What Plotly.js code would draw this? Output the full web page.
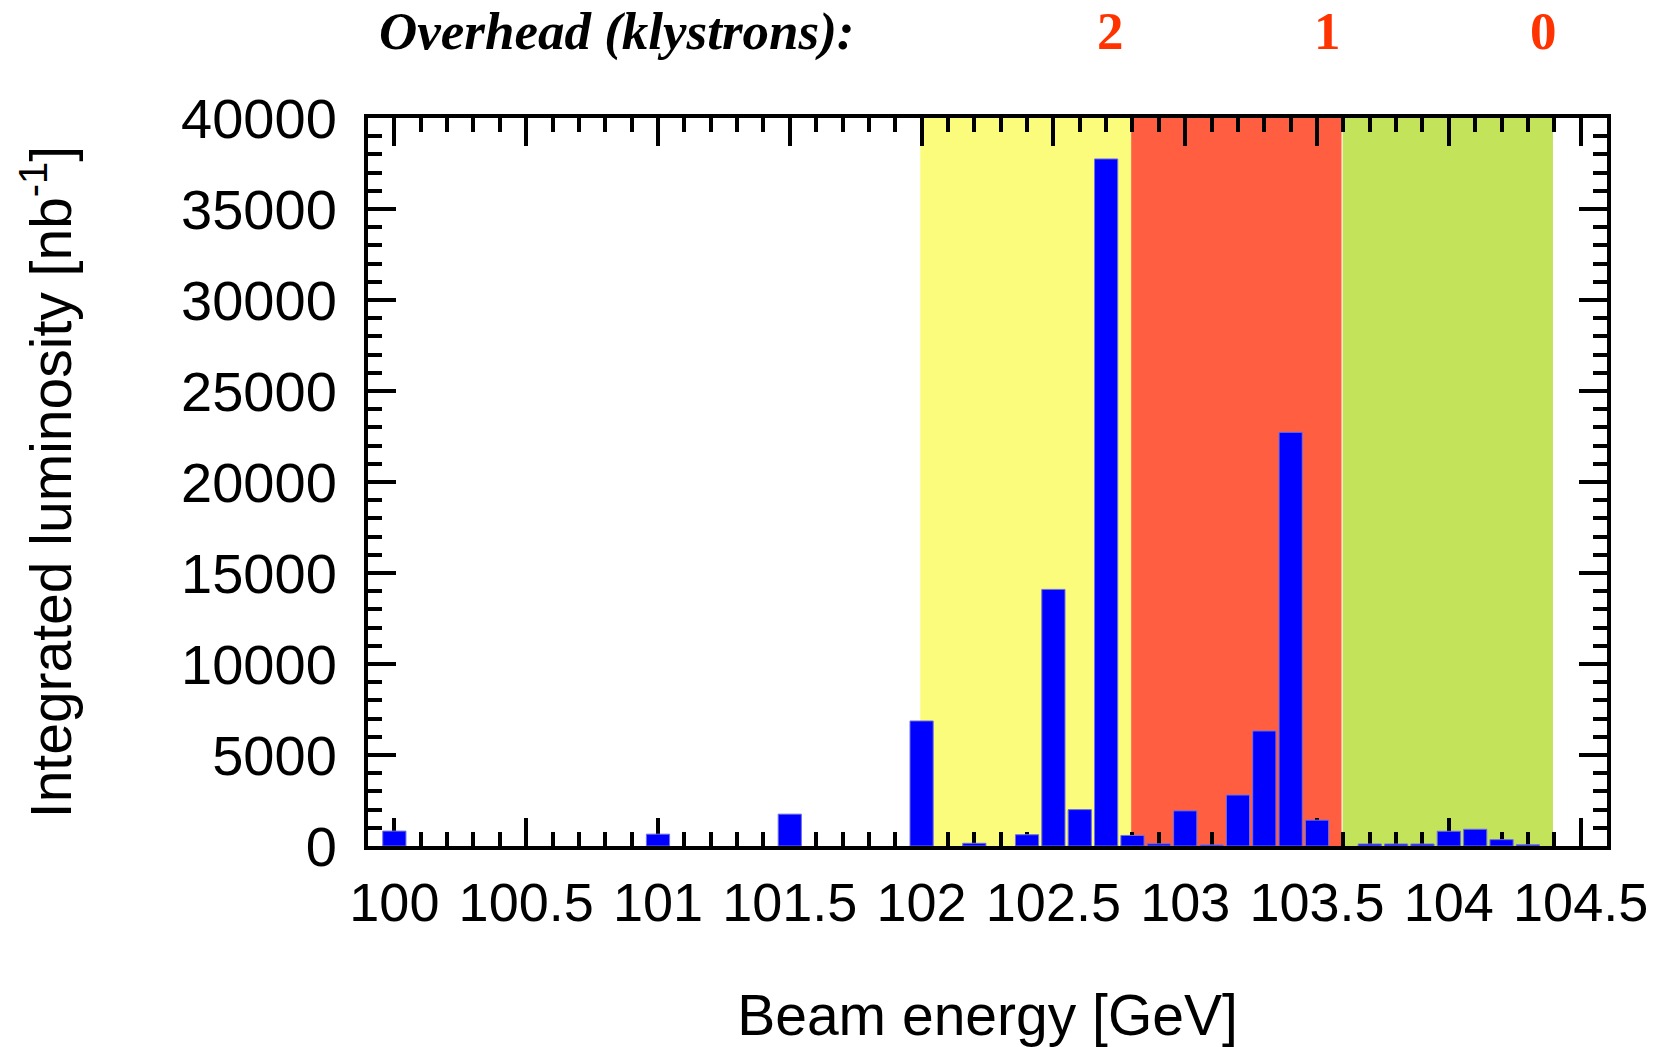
<!DOCTYPE html>
<html>
<head>
<meta charset="utf-8">
<script src="https://cdn.plot.ly/plotly-3.0.1.min.js"></script>
<style>
  html, body { margin: 0; padding: 0; background: #ffffff; }
  #chart { width: 1664px; height: 1047px; }
</style>
</head>
<body>
<div id="chart"></div>
<script>
// Beam energy bins [GeV] and integrated luminosity per bin [nb^-1]
const beamEnergy = [
  100.0, 101.0, 101.5, 102.0, 102.2, 102.4, 102.5, 102.6, 102.7, 102.8,
  102.9, 103.0, 103.1, 103.2, 103.3, 103.4, 103.5, 103.7, 103.8, 103.9,
  104.0, 104.1, 104.2, 104.3
];
const luminosity = [
  820, 650, 1750, 6870, 150, 620, 14100, 2000, 37750, 580,
  120, 1930, 60, 2800, 6320, 22730, 1420, 110, 110, 110,
  810, 920, 350, 70
];

// Klystron-overhead regions along the beam-energy axis
const overheadLabels = ['2', '1', '0'];
const overheadStart  = [101.995, 102.795, 103.597];
const overheadEnd    = [102.795, 103.593, 104.395];
const overheadColors = ['#FCFC7C', '#FF5F40', '#C2E35A'];
const overheadLabelX = [102.715, 103.54, 104.36];

const shapes = overheadStart.map((x0, i) => ({
  type: 'rect', xref: 'x', yref: 'paper',
  x0: x0, x1: overheadEnd[i], y0: 0, y1: 1,
  fillcolor: overheadColors[i], line: { width: 0 }, layer: 'below'
}));

const annotations = [{
  text: 'Overhead (klystrons):',
  xref: 'paper', yref: 'paper', x: 0.0075, y: 1.1195,
  xanchor: 'left', yanchor: 'middle', showarrow: false,
  font: { family: 'Liberation Serif, Times New Roman, serif', size: 53,
          color: '#000000', weight: 'bold', style: 'italic' }
}].concat(overheadLabels.map((t, i) => ({
  text: t,
  xref: 'x', yref: 'paper', x: overheadLabelX[i], y: 1.1195,
  xanchor: 'center', yanchor: 'middle', showarrow: false,
  font: { family: 'Liberation Serif, Times New Roman, serif', size: 53,
          color: '#FF3300', weight: 'bold' }
})));

const sans = 'Liberation Sans, Arial, Helvetica, sans-serif';
const xTickFont = { family: sans, size: 54, color: '#000000' };
const yTickFont = { family: sans, size: 56, color: '#000000' };
const titleFont = { family: sans, size: 57, color: '#000000' };

const trace = {
  type: 'bar',
  x: beamEnergy,
  y: luminosity,
  width: 0.088,
  marker: { color: '#0000FF', line: { color: '#7070E0', width: 1 } },
  hoverinfo: 'x+y'
};

const layout = {
  width: 1664, height: 1047,
  margin: { l: 368, r: 57, t: 118, b: 201, pad: 0 },
  paper_bgcolor: '#ffffff', plot_bgcolor: '#ffffff',
  showlegend: false,
  bargap: 0,
  xaxis: {
    range: [99.9, 104.6],
    tick0: 100, dtick: 0.5,
    ticks: 'inside', ticklen: 28, tickwidth: 4, tickcolor: '#000000',
    minor: { dtick: 0.1, tick0: 100, ticks: 'inside', ticklen: 14, tickwidth: 4, tickcolor: '#000000', showgrid: false },
    showline: true, linewidth: 4, linecolor: '#000000', mirror: 'allticks',
    showgrid: false, zeroline: false,
    layer: 'below traces',
    tickfont: xTickFont,
    ticklabelstandoff: 6,
    title: { text: 'Beam energy [GeV]', font: titleFont, standoff: 79 },
    automargin: false
  },
  yaxis: {
    range: [0, 40000],
    tick0: 0, dtick: 5000, tickformat: 'd',
    ticks: 'inside', ticklen: 28, tickwidth: 4, tickcolor: '#000000',
    minor: { dtick: 1000, tick0: 0, ticks: 'inside', ticklen: 14, tickwidth: 4, tickcolor: '#000000', showgrid: false },
    showline: true, linewidth: 4, linecolor: '#000000', mirror: 'allticks',
    showgrid: false, zeroline: false,
    layer: 'below traces',
    tickfont: yTickFont,
    ticklabelstandoff: 16,
    title: { text: 'Integrated luminosity [nb<sup>-1</sup>]', font: titleFont, standoff: 92 },
    automargin: false
  },
  shapes: shapes,
  annotations: annotations
};

Plotly.newPlot('chart', [trace], layout, { displayModeBar: false, staticPlot: true });
</script>
</body>
</html>
